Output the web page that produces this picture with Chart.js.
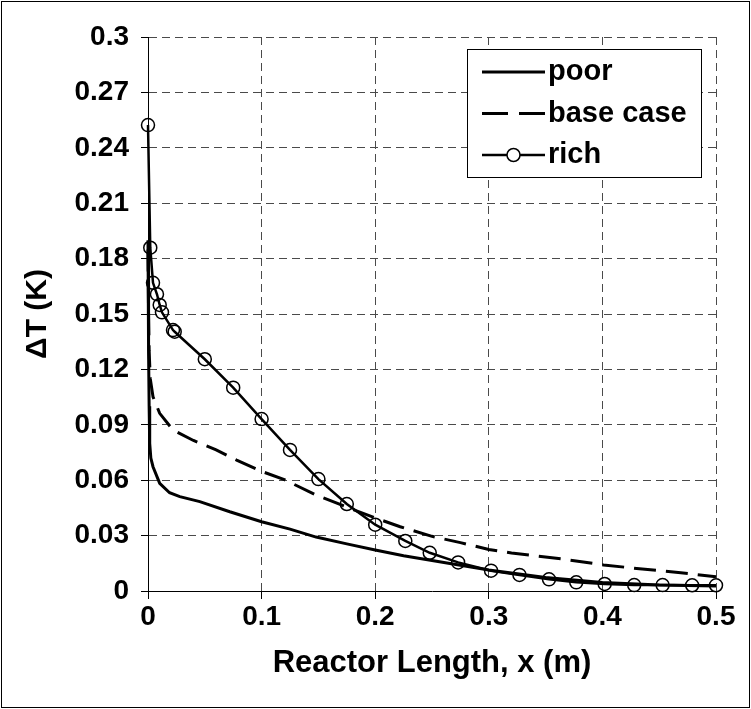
<!DOCTYPE html>
<html>
<head>
<meta charset="utf-8">
<script src="https://cdn.jsdelivr.net/npm/chart.js@4/dist/chart.umd.min.js"></script>
<style>
  html, body { margin: 0; padding: 0; background: #fff; }
  #c { display: block; }
</style>
</head>
<body>
<canvas id="c" width="751" height="709"></canvas>
<script>
// Temperature difference along the reactor for three feed compositions
const seriesNames = ['poor', 'base case', 'rich'];

const poorX = [0, 0.0005, 0.001, 0.0015, 0.0025, 0.0044, 0.0103, 0.019, 0.028, 0.0456, 0.072, 0.1, 0.125, 0.148, 0.175, 0.2, 0.225, 0.25, 0.3, 0.35, 0.4, 0.45, 0.5];
const poorY = [0.19, 0.13, 0.1, 0.08, 0.072, 0.0673, 0.0583, 0.0532, 0.0511, 0.0484, 0.0429, 0.0375, 0.0335, 0.0292, 0.0255, 0.0222, 0.0191, 0.0165, 0.0114, 0.0073, 0.0046, 0.0033, 0.0027];

const baseX = [0, 0.0005, 0.001, 0.002, 0.0044, 0.0103, 0.022, 0.04, 0.06, 0.078, 0.1, 0.12, 0.148, 0.176, 0.2, 0.222, 0.25, 0.275, 0.3, 0.32, 0.366, 0.401, 0.435, 0.469, 0.5];
const baseY = [0.185, 0.15, 0.13, 0.115, 0.1052, 0.0962, 0.0872, 0.0815, 0.0764, 0.0709, 0.0648, 0.0603, 0.052, 0.0452, 0.0396, 0.0348, 0.0296, 0.0262, 0.0225, 0.0206, 0.0172, 0.0141, 0.0119, 0.0099, 0.0077];

const richX = [0, 0.002, 0.0044, 0.0079, 0.0103, 0.0123, 0.022, 0.0235, 0.05, 0.075, 0.1, 0.125, 0.15, 0.175, 0.2, 0.2265, 0.248, 0.273, 0.302, 0.327, 0.353, 0.377, 0.402, 0.428, 0.453, 0.479, 0.5];
const richY = [0.2523, 0.1859, 0.1669, 0.1607, 0.1549, 0.1509, 0.1413, 0.1404, 0.1255, 0.1101, 0.0931, 0.0764, 0.0606, 0.0471, 0.0359, 0.0271, 0.0207, 0.0155, 0.0110, 0.0087, 0.0063, 0.0047, 0.0038, 0.0032, 0.0032, 0.0031, 0.0031];

const xTickValues = [0, 0.1, 0.2, 0.3, 0.4, 0.5];
const xTickLabels = ['0', '0.1', '0.2', '0.3', '0.4', '0.5'];
const yTickValues = [0, 0.03, 0.06, 0.09, 0.12, 0.15, 0.18, 0.21, 0.24, 0.27, 0.3];
const yTickLabels = ['0', '0.03', '0.06', '0.09', '0.12', '0.15', '0.18', '0.21', '0.24', '0.27', '0.3'];

const FONT = "'Liberation Sans', Arial, sans-serif";
const toPoints = (xs, ys) => xs.map((x, i) => ({ x: x, y: ys[i] }));

// White page with a thin frame around the whole figure
const framePlugin = {
  id: 'frame',
  beforeDraw(chart) {
    const ctx = chart.ctx;
    ctx.save();
    ctx.fillStyle = '#fff';
    ctx.fillRect(0, 0, chart.width, chart.height);
    ctx.strokeStyle = '#000';
    ctx.lineWidth = 1;
    ctx.strokeRect(1.5, 1.5, chart.width - 3, chart.height - 3);
    ctx.restore();
  }
};

// Boxed key in the upper right of the plot
const keyPlugin = {
  id: 'key',
  afterDraw(chart) {
    const ctx = chart.ctx;
    const area = chart.chartArea;
    const bx = area.right - 249, by = area.top + 12, bw = 234, bh = 128;
    ctx.save();
    ctx.fillStyle = '#fff';
    ctx.fillRect(bx, by, bw, bh);
    ctx.strokeStyle = '#000';
    ctx.lineWidth = 1;
    ctx.strokeRect(bx + 0.5, by + 0.5, bw, bh);
    ctx.font = 'bold 29px ' + FONT;
    ctx.textBaseline = 'middle';
    ctx.textAlign = 'left';
    chart.data.datasets.forEach((ds, i) => {
      const y = by + 23 + i * 41.5;
      const x0 = bx + 15, x1 = bx + 78;
      ctx.strokeStyle = '#000';
      ctx.lineWidth = ds.borderWidth;
      ctx.setLineDash(ds.borderDash ? [26, 11] : []);
      ctx.beginPath();
      ctx.moveTo(x0, y);
      ctx.lineTo(x1, y);
      ctx.stroke();
      ctx.setLineDash([]);
      if (ds.pointRadius > 0) {
        ctx.lineWidth = ds.pointBorderWidth;
        ctx.fillStyle = '#fff';
        ctx.beginPath();
        ctx.arc((x0 + x1) / 2, y, ds.pointRadius, 0, Math.PI * 2);
        ctx.fill();
        ctx.stroke();
      }
      ctx.fillStyle = '#000';
      ctx.fillText(ds.label, x1 + 3, y);
    });
    ctx.restore();
  }
};

const gridCommon = {
  color: '#4a4a4a',
  lineWidth: 1,
  drawTicks: true,
  tickLength: 8,
  tickColor: '#000',
  tickWidth: 1,
  tickBorderDash: []
};
// axis line stays solid; the dash applies to the grid lines
const borderCommon = { display: true, color: '#000', width: 1, dash: [8, 5] };

new Chart(document.getElementById('c'), {
  type: 'line',
  data: {
    datasets: [
      {
        label: seriesNames[0],
        data: toPoints(poorX, poorY),
        borderColor: '#000',
        borderWidth: 3,
        pointRadius: 0,
        tension: 0,
        clip: false
      },
      {
        label: seriesNames[1],
        data: toPoints(baseX, baseY),
        borderColor: '#000',
        borderWidth: 3,
        borderDash: [22, 10],
        pointRadius: 0,
        tension: 0,
        clip: false
      },
      {
        label: seriesNames[2],
        data: toPoints(richX, richY),
        borderColor: '#000',
        borderWidth: 2.5,
        pointRadius: 6.5,
        pointStyle: 'circle',
        pointBackgroundColor: 'rgba(0,0,0,0)',
        pointBorderColor: '#000',
        pointBorderWidth: 1.5,
        tension: 0,
        clip: false
      }
    ]
  },
  options: {
    responsive: false,
    animation: false,
    devicePixelRatio: 1,
    layout: { padding: { top: 37, right: 35, left: 0, bottom: 0 } },
    plugins: {
      legend: { display: false },
      tooltip: { enabled: false }
    },
    scales: {
      x: {
        type: 'linear',
        min: 0,
        max: 0.5,
        afterFit(scale) { scale.height = 118; },
        afterBuildTicks(scale) { scale.ticks = xTickValues.map(v => ({ value: v })); },
        ticks: {
          color: '#000',
          font: { family: FONT, size: 28, weight: 'bold' },
          padding: 1,
          maxRotation: 0,
          autoSkip: false,
          callback: (v, i) => xTickLabels[i]
        },
        grid: gridCommon,
        border: borderCommon,
        title: {
          display: true,
          text: 'Reactor Length, x (m)',
          color: '#000',
          font: { family: FONT, size: 31, weight: 'bold' },
          padding: { top: 0, bottom: 27 }
        }
      },
      y: {
        type: 'linear',
        min: 0,
        max: 0.3,
        afterFit(scale) { scale.width = 148; },
        afterBuildTicks(scale) { scale.ticks = yTickValues.map(v => ({ value: v })); },
        ticks: {
          color: '#000',
          font: { family: FONT, size: 28, weight: 'bold' },
          padding: 12,
          autoSkip: false,
          callback: (v, i) => yTickLabels[i]
        },
        grid: Object.assign({}, gridCommon, { tickLength: 7 }),
        border: borderCommon,
        title: {
          display: true,
          text: 'ΔT (K)',
          color: '#000',
          font: { family: FONT, size: 30, weight: 'bold' },
          padding: { top: 20, bottom: 0 }
        }
      }
    }
  },
  plugins: [framePlugin, keyPlugin]
});
</script>
</body>
</html>
